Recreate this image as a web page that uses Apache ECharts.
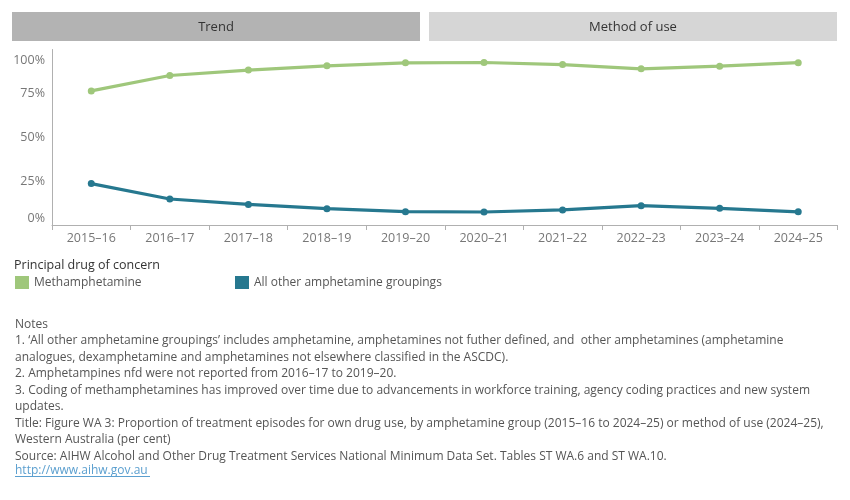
<!DOCTYPE html>
<html>
<head>
<meta charset="utf-8">
<script src="https://cdn.jsdelivr.net/npm/echarts@6/dist/echarts.min.js"></script>
<style>
html,body{margin:0;padding:0;background:#fff;}
#chart{width:850px;height:500px;}
</style>
</head>
<body>
<div id="chart"></div>
<script>
var categories = ['2015–16','2016–17','2017–18','2018–19','2019–20','2020–21','2021–22','2022–23','2023–24','2024–25'];
var methamphetamine = [76.4, 85.2, 88.3, 90.7, 92.4, 92.6, 91.4, 89.0, 90.5, 92.5];
var otherAmphetamine = [23.6, 14.8, 11.7, 9.3, 7.6, 7.4, 8.6, 11.0, 9.5, 7.5];
var yTicks = [0, 25, 50, 75, 100];
var seriesNames = ['Methamphetamine', 'All other amphetamine groupings'];
var tabs = ['Trend', 'Method of use'];
var notesLines = [
  'Notes',
  '1. \u2018All other amphetamine groupings\u2019 includes amphetamine, amphetamines not futher defined, and  other amphetamines (amphetamine',
  'analogues, dexamphetamine and amphetamines not elsewhere classified in the ASCDC).',
  '2. Amphetampines nfd were not reported from 2016\u201317 to 2019\u201320.',
  '3. Coding of methamphetamines has improved over time due to advancements in workforce training, agency coding practices and new system',
  'updates.',
  'Title: Figure WA 3: Proportion of treatment episodes for own drug use, by amphetamine group (2015\u201316 to 2024\u201325) or method of use (2024\u201325),',
  'Western Australia (per cent)',
  'Source: AIHW Alcohol and Other Drug Treatment Services National Minimum Data Set. Tables ST WA.6 and ST WA.10.'
];
var linkText = 'http://www.aihw.gov.au';
var legendTitle = 'Principal drug of concern';

var FONT = '"Open Sans", sans-serif';
var colors = ['#9fc77b', '#26788f'];

var chart = echarts.init(document.getElementById('chart'), null, {renderer: 'canvas'});
var option = {
  backgroundColor: '#fff',
  animation: false,
  textStyle: {fontFamily: FONT},
  grid: {left: 52, right: 12.5, top: 49.5, bottom: 275, containLabel: false},
  legend: [
    {data: [seriesNames[0]], left: 10, top: 271, icon: 'rect', itemWidth: 14, itemHeight: 13, itemGap: 5,
     textStyle: {color: '#555', fontSize: 12, fontFamily: FONT}},
    {data: [seriesNames[1]], left: 230, top: 271, icon: 'rect', itemWidth: 14, itemHeight: 13, itemGap: 5,
     textStyle: {color: '#555', fontSize: 12, fontFamily: FONT}}
  ],
  xAxis: {
    type: 'category', data: categories, boundaryGap: true,
    axisLine: {lineStyle: {color: '#b0b0b0', width: 1}},
    axisTick: {show: true, length: 5, lineStyle: {color: '#b0b0b0'}},
    axisLabel: {color: '#777', fontSize: 12.5, margin: 7, fontFamily: FONT}
  },
  yAxis: {
    type: 'value', min: yTicks[0], max: yTicks[yTicks.length - 1], interval: 25,
    axisLine: {show: true, lineStyle: {color: '#b0b0b0'}},
    axisTick: {show: false},
    splitLine: {show: false},
    axisLabel: {color: '#777', fontSize: 12.5, margin: 7, fontFamily: FONT,
      verticalAlignMinLabel: 'bottom', verticalAlignMaxLabel: 'top',
      formatter: function (v) {
        if (v === yTicks[yTicks.length - 1]) return '{t|' + v + '%}';
        return v + '%';
      },
      rich: {t: {color: '#777', fontSize: 12.5, fontFamily: FONT, padding: [4, 0, 0, 0]}}}
  },
  series: [
    {name: seriesNames[0], type: 'line', data: methamphetamine, color: colors[0],
     symbol: 'circle', symbolSize: 7, lineStyle: {width: 3.2}, itemStyle: {color: colors[0]}},
    {name: seriesNames[1], type: 'line', data: otherAmphetamine, color: colors[1],
     symbol: 'circle', symbolSize: 7, lineStyle: {width: 3.2}, itemStyle: {color: colors[1]}}
  ],
  graphic: [
    {type: 'rect', shape: {x: 12, y: 12, width: 408, height: 29}, style: {fill: '#b3b3b3'}},
    {type: 'rect', shape: {x: 429, y: 12, width: 408, height: 29}, style: {fill: '#d6d6d6'}},
    {type: 'text', x: 216, y: 27.5, style: {text: tabs[0], fill: '#333', font: '13px ' + FONT, align: 'center', verticalAlign: 'middle'}},
    {type: 'text', x: 633, y: 27.5, style: {text: tabs[1], fill: '#333', font: '13px ' + FONT, align: 'center', verticalAlign: 'middle'}},
    {type: 'text', x: 14, y: 265, style: {text: legendTitle, fill: '#333', font: '500 12.5px ' + FONT, verticalAlign: 'middle'}},
    {type: 'text', x: 15, y: 316, style: {text: notesLines.join('\n'), fill: '#555', font: '12px ' + FONT, lineHeight: 16.5, verticalAlign: 'top'}},
    {type: 'text', x: 15, y: 465, style: {text: linkText, fill: '#5b9fcf', font: '12px ' + FONT, verticalAlign: 'top'}},
    {type: 'line', shape: {x1: 15, y1: 476.5, x2: 150, y2: 476.5}, style: {stroke: '#5b9fcf', lineWidth: 1}}
  ]
};
chart.setOption(option);
</script>
</body>
</html>
